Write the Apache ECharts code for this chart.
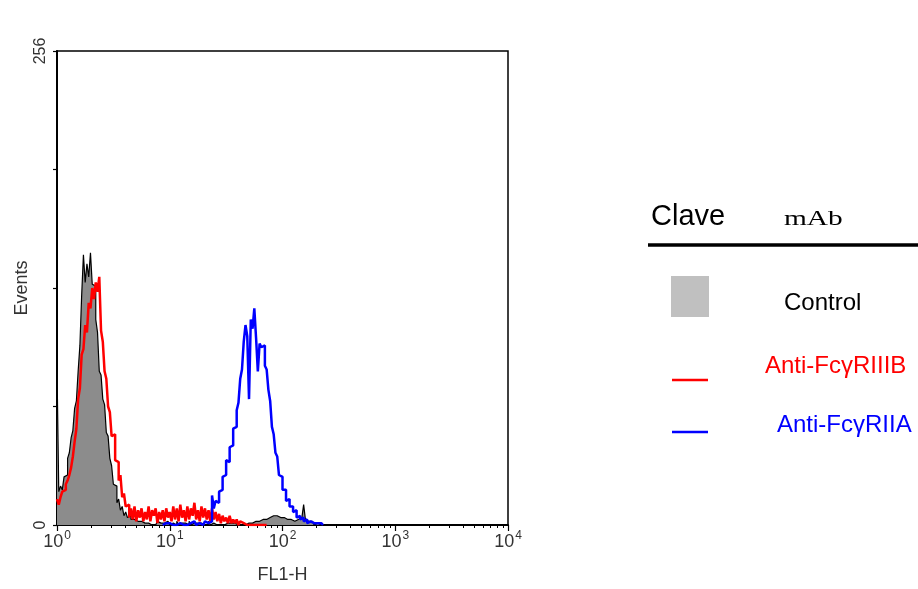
<!DOCTYPE html>
<html>
<head>
<meta charset="utf-8">
<script src="https://cdn.jsdelivr.net/npm/echarts@6/dist/echarts.min.js"></script>
<style>
  html, body { margin: 0; padding: 0; background: #fff; }
  #chart { width: 918px; height: 589px; }
</style>
</head>
<body>
<div id="chart"></div>
<script>
// FL1-H histogram, 256 log channels (64 channels per decade), counts per channel.
const controlStart = 0;
const controlCounts = [
  85, 18, 21, 19, 26, 27, 36, 39, 47, 51,
  63, 67, 83, 97, 124, 146, 131, 141, 134, 147,
  130, 129, 111, 104, 83, 81, 68, 65, 50, 48,
  36, 32, 22, 21, 12, 14, 8, 10, 5, 7,
  4, 5, 3, 3, 2, 2, 1, 2, 1, 1,
  0, 1, 2, 0, 1, 0, 1, 2, 1, 0,
  1, 0, 2, 1, 0, 1, 1, 0, 2, 0,
  1, 0, 1, 1, 0, 2, 0, 1, 0, 1,
  0, 1, 0, 0, 1, 0, 2, 0, 1, 0,
  0, 1, 0, 1, 0, 0, 1, 0, 1, 0,
  1, 0, 0, 1, 0, 1, 0, 1, 1, 2,
  1, 2, 2, 3, 2, 3, 3, 4, 3, 4,
  4, 5, 5, 4, 5, 5, 4, 5, 4, 4,
  3, 4, 3, 3, 2, 3, 3, 2, 4, 3,
  11, 3, 2, 1, 2, 1, 0, 1, 1, 0,
  0
];

const antiIIIBStart = 0;
const antiIIIBCounts = [
  14, 11, 15, 18, 19, 22, 24, 27, 31, 37,
  45, 52, 68, 74, 92, 95, 108, 104, 120, 117,
  128, 122, 131, 126, 134, 105, 99, 83, 79, 64,
  61, 48, 49, 35, 34, 24, 27, 15, 17, 10,
  11, 4, 9, 3, 10, 2, 8, 4, 9, 2,
  7, 3, 10, 2, 8, 5, 9, 1, 7, 3,
  8, 2, 9, 4, 7, 2, 10, 3, 9, 2,
  11, 4, 8, 2, 10, 3, 9, 5, 12, 3,
  8, 2, 10, 4, 9, 3, 8, 2, 9, 3,
  7, 2, 6, 1, 5, 2, 4, 1, 5, 1,
  3, 1, 3, 0, 2, 1, 2, 0, 1, 0,
  1, 0, 1, 0, 1, 0, 0, 0, 0, 0
];

const antiIIAStart = 60;
const antiIIACounts = [
  0, 1, 0, 1, 2, 0, 1, 0, 0, 1,
  2, 0, 1, 0, 1, 1, 0, 2, 1, 0,
  1, 2, 0, 1, 2, 1, 0, 2, 16, 9,
  13, 12, 18, 19, 26, 27, 35, 34, 42, 43,
  52, 53, 62, 66, 79, 84, 99, 108, 102, 68,
  111, 106, 117, 101, 83, 98, 96, 97, 86, 84,
  73, 67, 53, 49, 39, 37, 27, 26, 19, 19,
  13, 14, 10, 10, 7, 8, 4, 5, 3, 4,
  2, 3, 1, 2, 2, 1, 0, 1, 0, 1,
  0, 0
];

// Axis ticks (channel positions) and labels
const decadeChannels = [0, 64, 128, 192, 256];
const decadeExponents = ['0', '1', '2', '3', '4'];
const eventTicks = [0, 64, 128, 192, 256];
const eventLabels = { 0: '0', 256: '256' };

// Minor ticks at 2..9 x 10^k, expressed in channels
const minorChannels = [];
for (let d = 0; d < 4; d++) {
  for (let k = 2; k <= 9; k++) minorChannels.push(64 * d + 64 * Math.log10(k));
}

function toPairs(start, counts) {
  return counts.map((c, i) => [start + i, c]);
}

const FONT = '"Liberation Sans", Arial, sans-serif';
const chart = echarts.init(document.getElementById('chart'), null, { renderer: 'canvas' });

chart.setOption({
  animation: false,
  backgroundColor: '#ffffff',
  grid: {
    left: 57, right: 410, top: 51, bottom: 61,
    show: true, borderColor: '#000', borderWidth: 1.5, containLabel: false
  },
  xAxis: [
    {
      type: 'value', position: 'bottom', min: 0, max: 256,
      name: 'FL1-H', nameLocation: 'middle', nameGap: 41,
      nameTextStyle: { fontFamily: FONT, fontSize: 18, color: '#333' },
      axisLine: { show: true, lineStyle: { color: '#000', width: 2 } },
      axisTick: { show: true, customValues: decadeChannels, length: 6, lineStyle: { color: '#000', width: 1.2 } },
      axisLabel: {
        show: true, customValues: decadeChannels, margin: 5,
        formatter: v => '{b|10}{s|' + decadeExponents[decadeChannels.indexOf(v)] + '}',
        rich: {
          b: { fontFamily: FONT, fontSize: 18, color: '#333', lineHeight: 21, verticalAlign: 'bottom' },
          s: { fontFamily: FONT, fontSize: 12, color: '#333', lineHeight: 21, verticalAlign: 'top', padding: [0, 0, 0, 1] }
        }
      },
      splitLine: { show: false }
    },
    {
      type: 'value', position: 'bottom', min: 0, max: 256,
      axisLine: { show: false },
      axisTick: { show: true, customValues: minorChannels, length: 3, lineStyle: { color: '#000', width: 1 } },
      axisLabel: { show: false },
      splitLine: { show: false }
    }
  ],
  yAxis: {
    type: 'value', min: 0, max: 256, interval: 64,
    name: 'Events', nameLocation: 'middle', nameGap: 26, nameRotate: 90,
    nameTextStyle: { fontFamily: FONT, fontSize: 18, color: '#333' },
    axisLine: { show: true, lineStyle: { color: '#000', width: 2 } },
    axisTick: { show: true, customValues: eventTicks, length: 4, lineStyle: { color: '#000', width: 1.2 } },
    axisLabel: {
      rotate: 90, margin: 8, fontFamily: FONT, fontSize: 16, color: '#333',
      formatter: v => eventLabels[v] || ''
    },
    splitLine: { show: false }
  },
  series: [
    {
      name: 'Control', type: 'line', step: 'end', symbol: 'none',
      data: toPairs(controlStart, controlCounts),
      lineStyle: { color: '#000', width: 1.2 },
      areaStyle: { color: '#8c8c8c', opacity: 1, origin: 'start' },
      z: 2
    },
    {
      name: 'Anti-FcγRIIIB', type: 'line', step: 'end', symbol: 'none',
      data: toPairs(antiIIIBStart, antiIIIBCounts),
      lineStyle: { color: '#ff0000', width: 2.5 },
      z: 3
    },
    {
      name: 'Anti-FcγRIIA', type: 'line', step: 'end', symbol: 'none',
      data: toPairs(antiIIAStart, antiIIACounts),
      lineStyle: { color: '#0000ff', width: 2.5 },
      z: 4
    }
  ],
  graphic: [
    { type: 'text', left: 651, top: 202, style: { text: 'Clave', fontFamily: FONT, fontSize: 29, fill: '#000' } },
    { type: 'text', x: 784, y: 209, scaleX: 1.4, style: { text: 'mAb', fontFamily: '"Liberation Serif", "Times New Roman", serif', fontSize: 21, fill: '#000' } },
    { type: 'line', shape: { x1: 648, y1: 245, x2: 918, y2: 245 }, style: { stroke: '#000', lineWidth: 3.5 } },
    { type: 'rect', shape: { x: 671, y: 276, width: 38, height: 41 }, style: { fill: '#c0c0c0' } },
    { type: 'text', left: 784, top: 291, style: { text: 'Control', fontFamily: FONT, fontSize: 24, fill: '#000' } },
    { type: 'line', shape: { x1: 672, y1: 380, x2: 708, y2: 380 }, style: { stroke: '#ff0000', lineWidth: 2.5 } },
    { type: 'text', left: 765, top: 354, style: { text: 'Anti-FcγRIIIB', fontFamily: FONT, fontSize: 24, fill: '#ff0000' } },
    { type: 'line', shape: { x1: 672, y1: 432, x2: 708, y2: 432 }, style: { stroke: '#0000ff', lineWidth: 2.5 } },
    { type: 'text', left: 777, top: 413, style: { text: 'Anti-FcγRIIA', fontFamily: FONT, fontSize: 24, fill: '#0000ff' } }
  ]
});
</script>
</body>
</html>
